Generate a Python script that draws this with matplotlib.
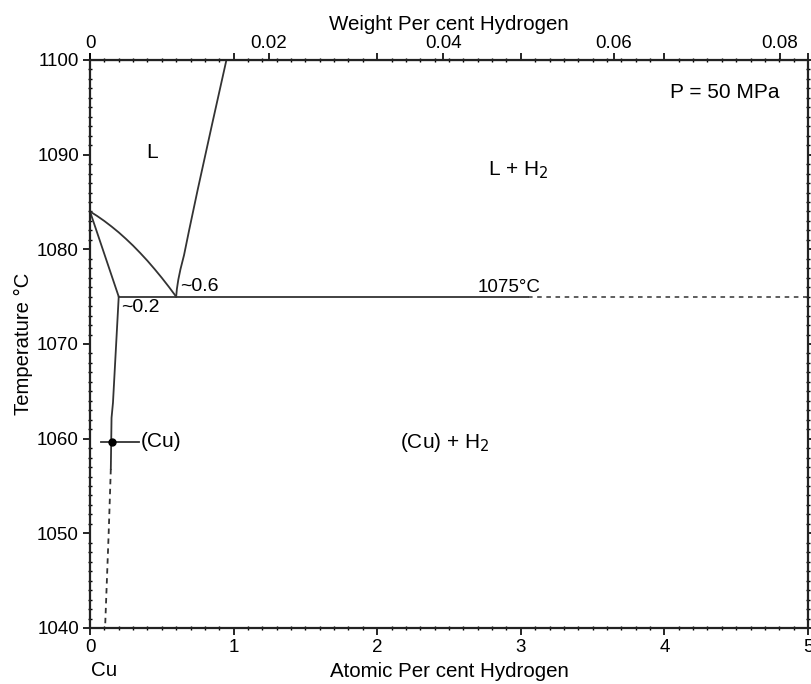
import numpy as np
import matplotlib.pyplot as plt
from matplotlib.ticker import MultipleLocator

plt.rcParams['font.family'] = ['Liberation Sans', 'DejaVu Sans']

# phase boundaries, atomic % H vs temperature (deg C)
liq_left_x = [0.0, 0.2]
liq_left_t = [1084.0, 1075.0]
liq_curve_x = [0.0, 0.05, 0.1, 0.15, 0.2, 0.25, 0.3, 0.35, 0.4, 0.45, 0.5, 0.55, 0.6]
liq_curve_t = [1084.0, 1083.52, 1082.99, 1082.41, 1081.79, 1081.11, 1080.39,
               1079.61, 1078.79, 1077.91, 1076.99, 1076.02, 1075.0]
gas_x = [0.6, 0.605, 0.615, 0.63, 0.655, 0.69, 0.75, 0.85, 0.95]
gas_t = [1075.0, 1075.8, 1076.8, 1077.9, 1079.4, 1082.0, 1086.3, 1093.2, 1100.0]
eut_solid_x = [0.2, 3.05]
eut_dash_x = [3.05, 5.0]
eut_t = 1075.0
solvus_x = [0.2, 0.16, 0.15, 0.145]
solvus_t = [1075.0, 1063.8, 1062.2, 1056.8]
solvus_dash_x = [0.145, 0.13, 0.105]
solvus_dash_t = [1056.8, 1050.0, 1040.0]
pt_x, pt_t = 0.155, 1059.7
bar_x = [0.08, 0.34]
wt_ticks = [0, 0.02, 0.04, 0.06, 0.08]
wt_labels = ['0', '0.02', '0.04', '0.06', '0.08']


def at2wt(a):
    a = np.asarray(a, dtype=float)
    return a * 1.008 / (a * 1.008 + (100 - a) * 63.546) * 100


def wt2at(w):
    m = np.asarray(w, dtype=float) / 100
    h = m / 1.008
    return h / (h + (1 - m) / 63.546) * 100


fig = plt.figure(figsize=(8.11, 6.84), dpi=100)
ax = fig.add_axes([90 / 811, 56 / 684, 718 / 811, 568 / 684])

lc = '#333333'
ax.plot(liq_left_x, liq_left_t, color=lc, lw=1.3)
ax.plot(liq_curve_x, liq_curve_t, color=lc, lw=1.3)
ax.plot(gas_x, gas_t, color=lc, lw=1.3)
ax.plot(eut_solid_x, [eut_t, eut_t], color=lc, lw=1.3)
ax.plot(eut_dash_x, [eut_t, eut_t], color=lc, lw=1.1, ls=(0, (3, 3)))
ax.plot(solvus_x, solvus_t, color=lc, lw=1.3)
ax.plot(solvus_dash_x, solvus_dash_t, color=lc, lw=1.3, ls=(0, (3, 2.5)))
ax.plot(bar_x, [pt_t, pt_t], color=lc, lw=1.3)
ax.plot([pt_x], [pt_t], 'o', color='black', ms=5)

fs = 15
ax.text(0.43, 1090.2, 'L', fontsize=fs, ha='center', va='center')
ax.text(2.98, 1088.4, 'L + H$_2$', fontsize=fs, ha='center', va='center')
ax.text(4.42, 1096.6, 'P = 50 MPa', fontsize=fs, ha='center', va='center')
ax.text(0.63, 1075.15, '~0.6', fontsize=14, ha='left', va='bottom')
ax.text(0.22, 1074.75, '~0.2', fontsize=14, ha='left', va='top')
ax.text(2.92, 1075.05, '1075°C', fontsize=13.5, ha='center', va='bottom')
ax.text(0.35, 1059.7, '(Cu)', fontsize=fs, ha='left', va='center')
ax.text(2.47, 1059.6, '(Cu) + H$_2$', fontsize=fs, ha='center', va='center')

ax.set_xlim(0, 5)
ax.set_ylim(1040, 1100)
ax.xaxis.set_major_locator(MultipleLocator(1))
ax.xaxis.set_minor_locator(MultipleLocator(0.1))
ax.yaxis.set_major_locator(MultipleLocator(10))
ax.yaxis.set_minor_locator(MultipleLocator(1))
ax.tick_params(which='major', direction='out', length=5, width=1.2,
               labelsize=13.5, top=True, right=True, pad=3)
ax.tick_params(which='minor', direction='inout', length=3, width=1,
               top=True, right=True)
for s in ax.spines.values():
    s.set_linewidth(1.6)
    s.set_color('#222222')

ax.set_xlabel('Atomic Per cent Hydrogen', fontsize=14.8, labelpad=4)
ax.set_ylabel('Temperature °C', fontsize=14.6, labelpad=3)
ax.text(0.1, 1035.5, 'Cu', fontsize=14.8, ha='center', va='center')

sec = ax.secondary_xaxis('top', functions=(at2wt, wt2at))
sec.set_xticks(wt_ticks)
sec.set_xticklabels(wt_labels)
sec.tick_params(direction='out', length=5, width=1.2, labelsize=13.5, pad=1)
sec.set_xlabel('Weight Per cent Hydrogen', fontsize=14.8, labelpad=3)

fig.savefig('out.png', dpi=100)
